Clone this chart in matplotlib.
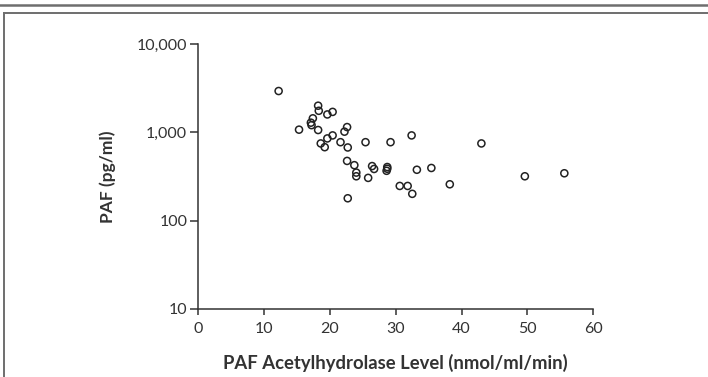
import numpy as np
import matplotlib
matplotlib.use("Agg")
import matplotlib.pyplot as plt
from matplotlib.lines import Line2D
from matplotlib.ticker import FixedLocator, FuncFormatter, NullLocator

# -----------------------------
# data
# -----------------------------
acetylhydrolase = [
    12.2, 18.2, 18.3, 19.6, 20.4, 17.4, 17.1, 17.2, 15.3, 18.2,
    22.6, 22.2, 20.4, 19.6, 18.6, 19.2, 21.6, 22.7, 25.4, 29.2,
    32.4, 22.6, 23.7, 24.0, 24.0, 26.4, 26.7, 25.8, 28.7, 28.7,
    28.6, 33.2, 35.4, 30.6, 31.8, 32.5, 38.2, 22.7, 43.0, 49.6,
    55.6,
]
paf = [
    2950, 2010, 1760, 1600, 1710, 1445, 1290, 1210, 1075, 1065,
    1150, 1020, 925, 855, 750, 680, 775, 675, 775, 775,
    925, 475, 425, 350, 318, 415, 385, 305, 405, 387,
    367, 377, 395, 247, 247, 201, 258, 179, 750, 318,
    344,
]

x_ticks = [0, 10, 20, 30, 40, 50, 60]
y_ticks = [10, 100, 1000, 10000]

plt.rcParams["font.family"] = ["Lato", "DejaVu Sans"]

fig = plt.figure(figsize=(7.08, 3.77), dpi=100)
ax = fig.add_axes([0.2801, 0.1812, 0.838 - 0.2801, 0.8825 - 0.1812])

ax.scatter(acetylhydrolase, paf, s=26, facecolors="none",
           edgecolors="#222222", linewidths=1.1, clip_on=False, zorder=3)

ax.set_yscale("log")
ax.set_xlim(0, 60)
ax.set_ylim(10, 10000)

ax.xaxis.set_major_locator(FixedLocator(x_ticks))
ax.yaxis.set_major_locator(FixedLocator(y_ticks))
ax.yaxis.set_minor_locator(NullLocator())
ax.yaxis.set_major_formatter(FuncFormatter(lambda v, p: f"{int(v):,}"))

for side in ["top", "right"]:
    ax.spines[side].set_visible(False)
for side in ["left", "bottom"]:
    ax.spines[side].set_color("#333333")
    ax.spines[side].set_linewidth(1.1)

ax.tick_params(axis="x", length=4.5, width=1.1, color="#333333",
               labelsize=11.5, labelcolor="#333333", pad=5)
ax.tick_params(axis="y", length=6, width=1.1, color="#333333",
               labelsize=11.5, labelcolor="#333333", pad=2)

ax.set_xlabel("PAF Acetylhydrolase Level (nmol/ml/min)", fontsize=13.3,
              fontweight="bold", color="#333333", labelpad=13)
ax.set_ylabel("PAF (pg/ml)", fontsize=12.5, fontweight="bold",
              color="#333333", labelpad=15)

# -----------------------------
# frame lines
# -----------------------------
H = 377.0
W = 708.0
fig.add_artist(Line2D([0, 1], [1 - 5 / H, 1 - 5 / H], color="#6e6e6e", lw=1.8))
fig.add_artist(Line2D([4.3 / W, 1], [1 - 12.5 / H, 1 - 12.5 / H], color="#6e6e6e", lw=1.4))
fig.add_artist(Line2D([4.3 / W, 4.3 / W], [0, 1 - 12.5 / H], color="#6e6e6e", lw=1.4))

fig.savefig("out.png", dpi=100)
